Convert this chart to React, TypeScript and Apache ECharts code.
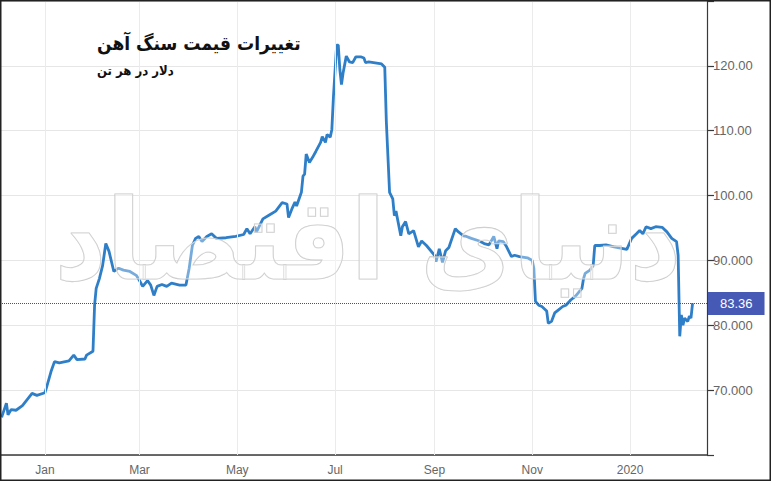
import React, { useEffect, useRef } from "react";
import * as echarts from "echarts";

const dates = [
  "2018-12-05","2018-12-08","2018-12-09","2018-12-11","2018-12-14","2018-12-18","2018-12-24","2018-12-27",
  "2019-01-01","2019-01-02","2019-01-05","2019-01-07","2019-01-10","2019-01-16","2019-01-19","2019-01-21",
  "2019-01-26","2019-01-27","2019-01-31","2019-02-01","2019-02-02","2019-02-04","2019-02-06","2019-02-08",
  "2019-02-10","2019-02-13","2019-02-16","2019-02-19","2019-02-23","2019-02-27","2019-03-01","2019-03-03",
  "2019-03-06","2019-03-08","2019-03-10","2019-03-12","2019-03-15","2019-03-18","2019-03-21","2019-03-26",
  "2019-03-30","2019-04-01","2019-04-03","2019-04-05","2019-04-07","2019-04-09","2019-04-12","2019-04-15",
  "2019-04-18","2019-04-24","2019-04-30","2019-05-05","2019-05-07","2019-05-09","2019-05-12","2019-05-13",
  "2019-05-17","2019-05-21","2019-05-25","2019-05-29","2019-06-01","2019-06-02","2019-06-04","2019-06-06",
  "2019-06-07","2019-06-10","2019-06-11","2019-06-12","2019-06-13","2019-06-15","2019-06-17","2019-06-19",
  "2019-06-22","2019-06-23","2019-06-25","2019-06-26","2019-06-28","2019-06-29","2019-06-30","2019-07-02",
  "2019-07-03","2019-07-04","2019-07-05","2019-07-06","2019-07-08","2019-07-10","2019-07-12","2019-07-14",
  "2019-07-17","2019-07-19","2019-07-20","2019-07-22","2019-07-25","2019-07-30","2019-08-01","2019-08-02",
  "2019-08-04","2019-08-06","2019-08-07","2019-08-08","2019-08-11","2019-08-12","2019-08-14","2019-08-16",
  "2019-08-19","2019-08-22","2019-08-24","2019-08-27","2019-09-01","2019-09-02","2019-09-04","2019-09-06",
  "2019-09-08","2019-09-10","2019-09-14","2019-09-16","2019-09-19","2019-09-21","2019-09-24","2019-09-29",
  "2019-10-02","2019-10-05","2019-10-08","2019-10-10","2019-10-11","2019-10-14","2019-10-16","2019-10-19",
  "2019-10-21","2019-10-24","2019-10-29","2019-11-01","2019-11-02","2019-11-03","2019-11-05","2019-11-07",
  "2019-11-10","2019-11-11","2019-11-13","2019-11-15","2019-11-17","2019-11-20","2019-11-22","2019-11-25",
  "2019-11-28","2019-12-02","2019-12-03","2019-12-04","2019-12-07","2019-12-09","2019-12-10","2019-12-13",
  "2019-12-17","2019-12-22","2019-12-30","2020-01-02","2020-01-05","2020-01-07","2020-01-09","2020-01-11",
  "2020-01-14","2020-01-17","2020-01-21","2020-01-24","2020-01-27","2020-01-30","2020-01-31","2020-02-01",
  "2020-02-02","2020-02-03","2020-02-04","2020-02-06","2020-02-07","2020-02-08","2020-02-09"
];

const prices = [
  65.8,68.0,66.2,67.0,66.9,67.6,69.5,69.2,
  69.6,70.4,73.0,74.4,74.2,74.5,75.4,74.7,
  74.8,75.4,76.0,83.1,85.7,87.2,89.2,92.6,
  91.4,88.3,88.8,88.5,88.3,87.7,86.9,86.0,
  86.9,86.2,84.6,86.0,86.3,86.0,86.5,86.2,
  86.2,88.8,92.3,93.4,93.7,92.9,93.7,94.1,
  93.4,93.5,93.7,94.0,94.9,94.1,95.2,94.4,
  96.4,97.0,97.6,98.9,98.7,96.6,97.9,99.0,
  98.4,100.5,103.0,103.3,106.4,105.1,105.9,106.8,
  108.2,109.1,108.2,109.4,109.0,110.2,115.3,123.2,
  123.2,119.4,117.1,118.9,121.5,120.6,120.5,121.4,
  121.4,121.2,120.5,120.6,120.5,120.3,119.8,111.3,
  100.5,99.5,96.9,97.6,93.8,95.2,96.0,94.1,
  94.6,92.1,93.0,92.3,90.8,89.8,91.8,89.7,
  91.5,92.0,94.9,94.4,93.8,93.7,93.4,93.0,
  92.6,92.4,93.7,91.8,93.0,92.9,92.1,90.6,
  90.8,90.6,90.4,90.0,88.8,83.7,83.1,82.9,
  82.2,80.3,80.6,81.9,82.3,82.9,83.1,83.9,
  84.5,85.7,87.2,88.0,88.5,89.2,92.3,92.3,
  92.4,92.1,91.7,93.4,94.1,94.6,94.1,95.2,
  94.9,95.2,95.1,94.4,93.4,92.9,90.8,78.3,
  81.6,80.0,81.1,80.6,81.4,81.1,83.4
];

const lastPrice = 83.36;

const xTickDates = ["2019-01-01","2019-03-01","2019-05-01","2019-07-01","2019-09-01","2019-11-01","2020-01-01"];
const xTickLabels = ["Jan","Mar","May","Jul","Sep","Nov","2020"];

const yTickValues = [70, 80, 90, 100, 110, 120];
const yTickLabels = ["70.000", "80.000", "90.000", "100.00", "110.00", "120.00"];

const titleText = "تغییرات قیمت سنگ آهن";
const subtitleText = "دلار در هر تن";
const watermarkText = "دنیای اقتصاد";

function toTs(s: string): number {
  const [y, m, d] = s.split("-").map(Number);
  return Date.UTC(y, m - 1, d);
}

export default function App() {
  const ref = useRef<HTMLDivElement>(null);

  useEffect(() => {
    if (!ref.current) return;
    const chart = echarts.init(ref.current, null, { renderer: "svg" });
    const tickTs = xTickDates.map(toTs);
    const seriesData = dates.map((d, i) => [toTs(d), prices[i]]);

    const option: any = {
      animation: false,
      backgroundColor: "#ffffff",
      grid: { left: 0, right: 64, top: 1, bottom: 26, containLabel: false },
      xAxis: {
        type: "value",
        min: toTs("2018-12-04"),
        max: toTs("2020-02-18"),
        axisLine: { show: true, lineStyle: { color: "#3a3a3a", width: 1.5 } },
        axisTick: { show: false },
        splitLine: { show: false },
        axisLabel: {
          customValues: tickTs,
          color: "#666",
          fontSize: 12,
          fontFamily: "Liberation Sans Narrow, Liberation Sans, Arial, sans-serif",
          margin: 9,
          hideOverlap: false,
          formatter: (v: number) => {
            const i = tickTs.indexOf(v);
            return i >= 0 ? xTickLabels[i] : "";
          },
        },
      },
      yAxis: {
        type: "value",
        position: "right",
        min: 60,
        max: 130,
        interval: 10,
        axisLine: { show: true, lineStyle: { color: "#3a3a3a", width: 1.2 } },
        axisTick: { show: true, length: 7, lineStyle: { color: "#3a3a3a", width: 1.2 } },
        splitLine: { show: true, lineStyle: { color: "#e6e6e6", width: 1 } },
        axisLabel: {
          color: "#666",
          fontSize: 13,
          fontFamily: "Liberation Sans Narrow, Liberation Sans, Arial, sans-serif",
          margin: 6,
          formatter: (v: number) => {
            const i = yTickValues.indexOf(v);
            return i >= 0 ? yTickLabels[i] : "";
          },
        },
      },
      series: [
        {
          type: "line",
          data: [],
          silent: true,
          z: 1,
          markLine: {
            silent: true,
            symbol: ["none", "none"],
            label: { show: false },
            lineStyle: { color: "#ebebeb", type: "solid", width: 1 },
            data: tickTs.map((t) => ({ xAxis: t })),
          },
        },
        {
          type: "line",
          data: seriesData,
          showSymbol: false,
          symbol: "none",
          silent: true,
          z: 3,
          lineStyle: { color: "#2f7fc8", width: 2.8 },
          markLine: {
            silent: true,
            symbol: ["none", "none"],
            lineStyle: { color: "#3c46d0", type: [1, 1], width: 1 },
            label: {
              show: true,
              position: "end",
              distance: 1,
              formatter: lastPrice.toFixed(2),
              backgroundColor: "#4659b5",
              color: "#ffffff",
              fontSize: 13,
              fontFamily: "Liberation Sans, Arial, sans-serif",
              padding: [5, 12, 5, 12],
            },
            data: [{ yAxis: lastPrice }],
          },
        },
      ],
      graphic: [
        {
          type: "text",
          x: 368,
          y: 240,
          z: 10,
          silent: true,
          style: {
            text: watermarkText,
            font: 'bold 112px "DejaVu Sans Condensed", "DejaVu Sans"',
            textAlign: "center",
            textVerticalAlign: "middle",
            fill: "rgba(255,255,255,0.35)",
            stroke: "#c8c8c8",
            lineWidth: 1.1,
          },
        },
        {
          type: "text",
          x: 97,
          y: 33,
          z: 20,
          style: {
            text: titleText,
            font: 'bold 19px "DejaVu Sans Condensed", "DejaVu Sans"',
            fill: "#111",
            textAlign: "left",
            textVerticalAlign: "top",
          },
        },
        {
          type: "text",
          x: 97,
          y: 64,
          z: 20,
          style: {
            text: subtitleText,
            font: 'bold 13px "DejaVu Sans Condensed", "DejaVu Sans"',
            fill: "#111",
            textAlign: "left",
            textVerticalAlign: "top",
          },
        },
        {
          type: "rect",
          z: 30,
          silent: true,
          shape: { x: 0.75, y: 0.75, width: 769.5, height: 479.5 },
          style: { fill: "none", stroke: "#222", lineWidth: 1.5 },
        },
      ],
    };
    chart.setOption(option);
    return () => chart.dispose();
  }, []);

  return (
    <div
      ref={ref}
      style={{ position: "absolute", left: 0, top: 0, width: 771, height: 481 }}
    />
  );
}
